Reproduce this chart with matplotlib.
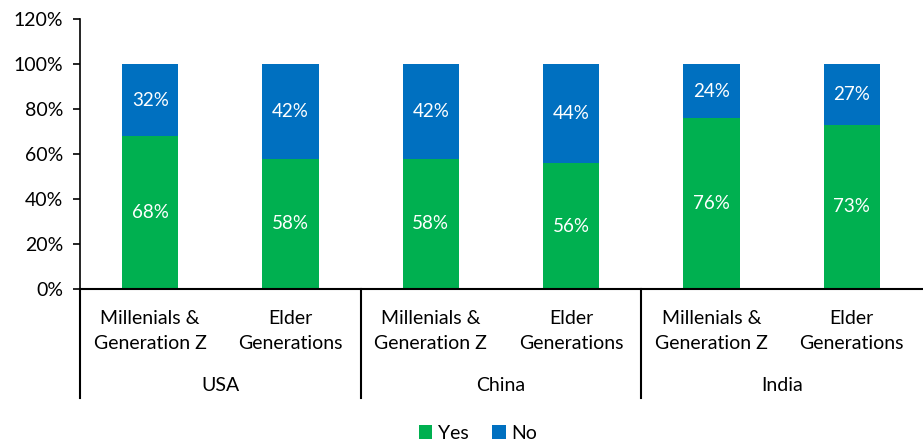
import matplotlib
matplotlib.use("Agg")
import matplotlib.pyplot as plt
from matplotlib.patches import Patch
from matplotlib.ticker import FuncFormatter, MultipleLocator

plt.rcParams['font.family'] = ['Lato', 'DejaVu Sans']

countries = ["USA", "China", "India"]
generations = ["Millenials &\nGeneration Z", "Elder\nGenerations"]
yes_values = [68, 58, 58, 56, 76, 73]
no_values = [32, 42, 42, 44, 24, 27]

GREEN = "#00B050"
BLUE = "#0070C0"

W, H = 923, 444
fig = plt.figure(figsize=(W / 100, H / 100), dpi=100)
ax_left, ax_right, ax_bottom, ax_top = 80, 922, 289, 19
ax = fig.add_axes([ax_left / W, (H - ax_bottom) / H,
                   (ax_right - ax_left) / W, (ax_bottom - ax_top) / H])

n = len(yes_values)
x = list(range(n))
bw = 0.4
ax.bar(x, yes_values, width=bw, color=GREEN, label="Yes", zorder=2)
ax.bar(x, no_values, width=bw, bottom=yes_values, color=BLUE, label="No", zorder=2)

fs = 13.5
fs_cat = 14
for xi, y, nv in zip(x, yes_values, no_values):
    ax.text(xi, y / 2, f"{y}%", ha="center", va="center", color="white", fontsize=fs)
    ax.text(xi, y + nv / 2, f"{nv}%", ha="center", va="center", color="white", fontsize=fs)

ax.set_xlim(-0.5, n - 0.5)
ax.set_ylim(0, 120)
ax.yaxis.set_major_locator(MultipleLocator(20))
ax.yaxis.set_major_formatter(FuncFormatter(lambda v, _: f"{v:.0f}%"))
ax.tick_params(axis="y", labelsize=14, length=5, width=1.2, color="black", pad=7)
ax.set_xticks([])
for s in ("top", "right"):
    ax.spines[s].set_visible(False)
ax.spines["left"].set_linewidth(1.2)
ax.spines["bottom"].set_linewidth(1.5)

axh = ax_bottom - ax_top
# category labels
for i in range(n):
    ax.text(i, -42 / axh, generations[i % 2], transform=ax.get_xaxis_transform(),
            ha="center", va="center", fontsize=fs_cat, linespacing=1.55)
# group labels and separators
for g, c in enumerate(countries):
    ax.text(2 * g + 0.5, -96 / axh, c, transform=ax.get_xaxis_transform(),
            ha="center", va="center", fontsize=fs_cat)
for b in range(len(countries)):
    xb = 2 * b - 0.5
    ax.plot([xb, xb], [0, -109 / axh], transform=ax.get_xaxis_transform(),
            color="black", lw=1.5, clip_on=False)

handles = [Patch(facecolor=GREEN, label="Yes"), Patch(facecolor=BLUE, label="No")]
fig.legend(handles=handles, loc="center", bbox_to_anchor=(478 / W, (H - 433) / H),
           ncol=2, frameon=False, fontsize=fs_cat, handlelength=0.7, handleheight=0.7,
           handletextpad=0.3, columnspacing=1.2)

fig.savefig("out.png", dpi=100)
